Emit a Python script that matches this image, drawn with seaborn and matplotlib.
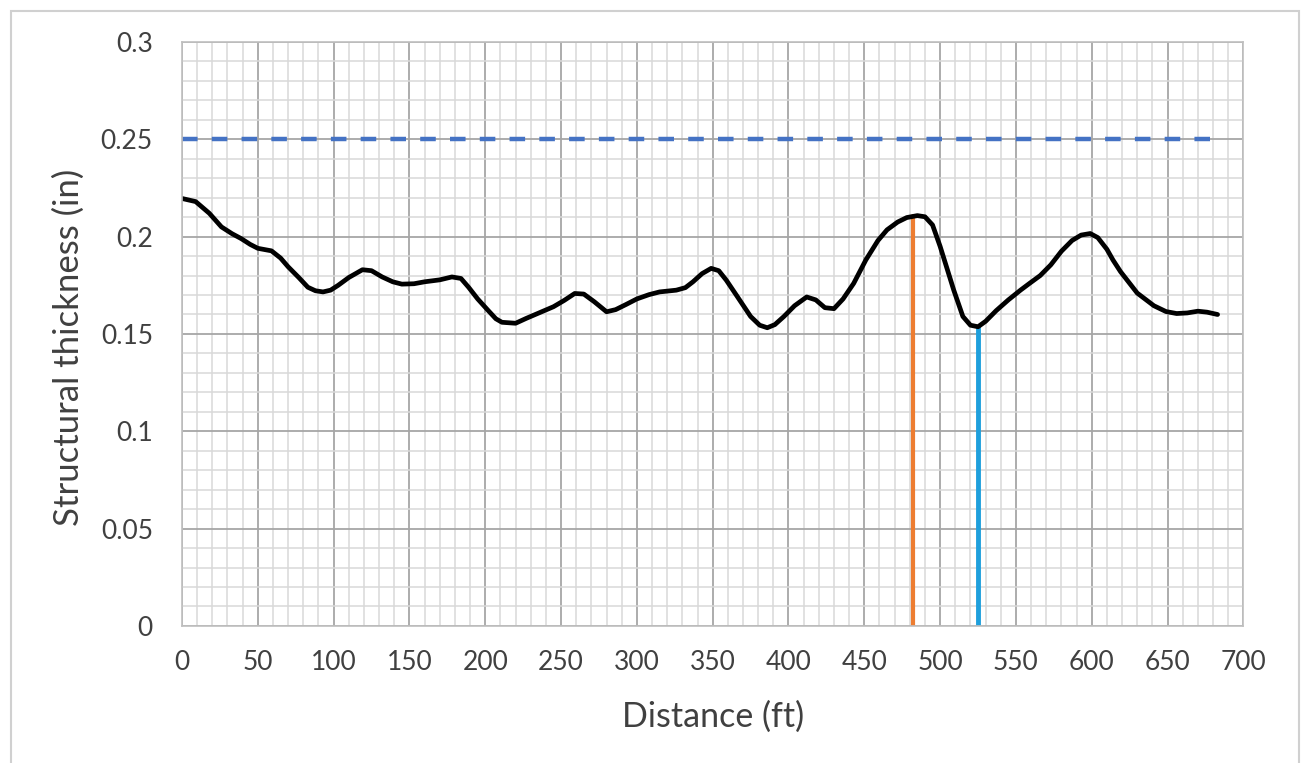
import matplotlib
matplotlib.use("Agg")
import matplotlib.pyplot as plt
import seaborn as sns
import pandas as pd
from matplotlib.ticker import MultipleLocator
from matplotlib.patches import Rectangle

# Thickness profile
distance = [0, 9, 18, 26, 33, 39, 45, 50, 59, 65, 70, 77, 83, 88, 93, 98, 103, 110,
            119, 125, 132, 139, 145, 153, 160, 170, 178, 184, 189, 195, 202, 207, 211,
            220, 227, 236, 245, 252, 259, 265, 272, 280, 286, 293, 300, 308, 315, 326,
            332, 337, 343, 349, 354, 359, 366, 375, 381, 386, 391, 397, 404, 412, 418,
            424, 430, 436, 443, 451, 459, 465, 472, 478, 485, 490, 495, 500, 505, 509,
            515, 520, 525, 530, 537, 545, 553, 559, 566, 573, 580, 587, 593, 599, 604,
            610, 614, 619, 623, 630, 641, 649, 656, 663, 670, 676, 683]
thickness = [0.2196, 0.218, 0.212, 0.205, 0.2015, 0.199, 0.196, 0.194, 0.1927, 0.189,
             0.1845, 0.179, 0.174, 0.1722, 0.1716, 0.1725, 0.175, 0.179,
             0.183, 0.1825, 0.1793, 0.1768, 0.1756, 0.1758, 0.1768, 0.1778, 0.1793, 0.1785,
             0.174, 0.168, 0.162, 0.1578, 0.156,
             0.1555, 0.158, 0.161, 0.164, 0.1672, 0.1708, 0.1705, 0.1665, 0.1614, 0.1625,
             0.1652, 0.168, 0.1702, 0.1716, 0.1725, 0.1738, 0.1768, 0.181, 0.1837, 0.1825,
             0.1776, 0.1695, 0.159, 0.1545, 0.1532, 0.1548, 0.159, 0.1645, 0.169, 0.1675,
             0.1635, 0.163, 0.168, 0.176, 0.188, 0.198, 0.2035, 0.2075, 0.2098, 0.2108,
             0.2102, 0.206, 0.195, 0.1825, 0.1725,
             0.159, 0.1545, 0.1537, 0.1565, 0.162, 0.1675, 0.1725, 0.176, 0.18, 0.1855,
             0.1925, 0.198, 0.2008, 0.2016, 0.1995, 0.1935, 0.188, 0.182, 0.178, 0.171,
             0.1645, 0.1615, 0.1605, 0.1608, 0.1617, 0.1612, 0.160]

limit_value = 0.25
limit_span = [0, 678]
orange_mark = [482, 0.2105]
blue_mark = [525, 0.1537]

df = pd.DataFrame({'distance': distance, 'thickness': thickness})

sns.set_style('white')
plt.rcParams['font.family'] = ['Lato', 'DejaVu Sans']

fig = plt.figure(figsize=(13.01, 7.63), dpi=100)
ax = fig.add_axes([0.1399, 0.1796, 0.8158, 0.7654])

# Excel-like major and minor grid
ax.xaxis.set_major_locator(MultipleLocator(50))
ax.xaxis.set_minor_locator(MultipleLocator(10))
ax.yaxis.set_major_locator(MultipleLocator(0.05))
ax.yaxis.set_minor_locator(MultipleLocator(0.01))
ax.grid(which='major', color='#a6a6a6', linewidth=1.3)
ax.grid(which='minor', color='#d9d9d9', linewidth=1.1)
ax.set_axisbelow(True)

ax.plot(limit_span, [limit_value, limit_value], color='#4472c4', linewidth=3.2,
        linestyle=(0, (3.5, 3.2)))
ax.plot([orange_mark[0], orange_mark[0]], [0, orange_mark[1]], color='#ed7d31', linewidth=3)
ax.plot([blue_mark[0], blue_mark[0]], [0, blue_mark[1]], color='#1e9fdc', linewidth=3.5)
sns.lineplot(data=df, x='distance', y='thickness', color='black', linewidth=3.4, ax=ax)

ax.set_xlim(0, 700)
ax.set_ylim(0, 0.3)
ax.set_xticks(range(0, 701, 50))
ax.set_yticks([0, 0.05, 0.1, 0.15, 0.2, 0.25, 0.3])
ax.set_yticklabels(['0', '0.05', '0.1', '0.15', '0.2', '0.25', '0.3'])
ax.tick_params(which='both', length=0, labelsize=19, labelcolor='#404040')
ax.tick_params(axis='x', pad=17)
ax.tick_params(axis='y', pad=21)
for s in ax.spines.values():
    s.set_color('#bfbfbf')
    s.set_linewidth(1.2)

ax.set_xlabel('Distance (ft)', fontsize=24.5, color='#404040', labelpad=19)
ax.set_ylabel('Structural thickness (in)', fontsize=25, color='#404040')
ax.yaxis.set_label_coords(-0.0914, 0.477)

# outer chart border
fig.patches.append(Rectangle((11 / 1301, -0.01), (1299 - 11) / 1301, 1 - 11 / 763 + 0.01,
                             transform=fig.transFigure, fill=False,
                             edgecolor='#d0d0d0', linewidth=1.5))

fig.savefig('out.png', dpi=100)
